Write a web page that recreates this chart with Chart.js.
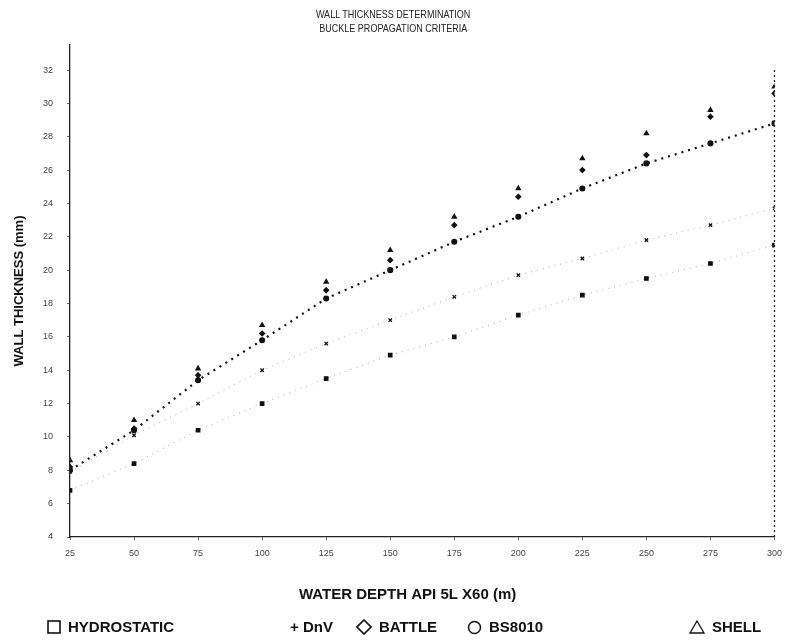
<!DOCTYPE html>
<html><head><meta charset="utf-8">
<script src="https://cdn.jsdelivr.net/npm/chart.js@4.4.0/dist/chart.umd.min.js"></script>
<style>
html,body{margin:0;padding:0;background:#fff;}
#wrap{position:relative;width:790px;height:641px;overflow:hidden;}
canvas{position:absolute;left:0;top:0;}
.leg{position:absolute;top:618px;font:bold 15px "Liberation Sans",Arial,sans-serif;color:#111;white-space:nowrap;line-height:18px;display:flex;align-items:center;}
.leg svg{margin-right:7px;}
#title{position:absolute;left:0;top:7px;width:786px;text-align:center;font:11px "Liberation Sans",Arial,sans-serif;color:#222;line-height:14px;}
#title div{display:inline-block;transform:scaleX(0.82);transform-origin:50% 50%;white-space:nowrap;}
</style></head><body>
<div id="wrap"><canvas id="c" width="790" height="641"></canvas>
<div id="title"><div>WALL THICKNESS DETERMINATION</div><br><div>BUCKLE PROPAGATION CRITERIA</div></div>
<div class="leg" style="left:47px"><svg width="14" height="14"><rect x="1" y="1" width="12" height="12" fill="none" stroke="#111" stroke-width="1.6"/></svg>HYDROSTATIC</div>
<div class="leg" style="left:290px">+ DnV</div>
<div class="leg" style="left:356px"><svg width="16" height="16"><polygon points="8,1 15,8 8,15 1,8" fill="none" stroke="#111" stroke-width="1.6"/></svg>BATTLE</div>
<div class="leg" style="left:467px"><svg width="15" height="15"><circle cx="7.5" cy="7.5" r="6" fill="none" stroke="#111" stroke-width="1.5"/></svg>BS8010</div>
<div class="leg" style="left:689px"><svg width="16" height="15"><polygon points="8,1 15,13 1,13" fill="none" stroke="#111" stroke-width="1.3"/></svg>SHELL</div>
</div>
<script>
// Water depth (m)
const depths = [25, 50, 75, 100, 125, 150, 175, 200, 225, 250, 275, 300];
const xTicks = [25, 50, 75, 100, 125, 150, 175, 200, 225, 250, 275, 300];
const yTicks = [4, 6, 8, 10, 12, 14, 16, 18, 20, 22, 24, 26, 28, 30, 32];
// Wall thickness (mm)
const hydrostatic = [6.8, 8.4, 10.4, 12.0, 13.5, 14.9, 16.0, 17.3, 18.5, 19.5, 20.4, 21.5];
const dnv         = [7.9, 10.1, 12.0, 14.0, 15.6, 17.0, 18.4, 19.7, 20.7, 21.8, 22.7, 23.7];
const battle      = [8.2, 10.5, 13.7, 16.2, 18.8, 20.6, 22.7, 24.4, 26.0, 26.9, 29.2, 30.6];
const bs8010      = [8.0, 10.4, 13.4, 15.8, 18.3, 20.0, 21.7, 23.2, 24.9, 26.4, 27.6, 28.8];
const shell       = [8.6, 11.0, 14.1, 16.7, 19.3, 21.2, 23.2, 24.9, 26.7, 28.2, 29.6, 31.0];

const pts = arr => arr.map((v, i) => ({x: depths[i], y: v}));
const FONT = '"Liberation Sans", Arial, sans-serif';

function ds(label, arr, style, line) {
  return {
    label, data: pts(arr), pointStyle: style, pointRadius: 2.4,
    backgroundColor: '#111', borderColor: line ? line.c : '#111',
    pointBorderColor: '#111', pointBorderWidth: 1.3,
    showLine: !!line, borderWidth: line ? line.w : 0,
    borderDash: line ? line.dash : []
  };
}

const rightBorder = {
  id: 'rightBorder',
  afterDraw(chart) {
    const {ctx, chartArea: a} = chart;
    ctx.save();
    ctx.strokeStyle = '#222'; ctx.lineWidth = 1.3; ctx.setLineDash([2, 3]);
    ctx.beginPath(); ctx.moveTo(a.right, a.top + 25); ctx.lineTo(a.right, a.bottom); ctx.stroke();
    ctx.restore();
  }
};

new Chart(document.getElementById('c'), {
  type: 'scatter',
  data: {
    datasets: [
      ds('HYDROSTATIC', hydrostatic, 'rect', {w: 1, dash: [1, 5], c: '#aaa'}),
      ds('DnV', dnv, 'crossRot', {w: 1, dash: [1, 5], c: '#aaa'}),
      ds('BATTLE', battle, 'rectRot', null),
      ds('BS8010', bs8010, 'circle', {w: 2.2, dash: [2, 5], c: '#111'}),
      ds('SHELL', shell, 'triangle', null)
    ]
  },
  options: {
    responsive: false, animation: false,
    layout: {padding: {left: 0, right: 12, top: 45, bottom: 34}},
    plugins: {
      legend: {display: false},
      tooltip: {enabled: false},
      title: {display: false}
    },
    scales: {
      x: {
        type: 'linear', min: 25, max: 300,
        afterBuildTicks: s => { s.ticks = xTicks.map(v => ({value: v})); },
        afterFit: s => { s.height = 70; },
        ticks: {font: {family: FONT, size: 9}, color: '#444', padding: 8, maxRotation: 0},
        grid: {display: true, drawOnChartArea: false, drawTicks: true, tickLength: 3, color: '#666'},
        border: {display: true, color: '#222', width: 1.3, dash: [2, 3]},
        title: {display: true, text: 'WATER DEPTH API 5L X60 (m)       ', color: '#111',
          font: {family: FONT, size: 15, weight: 'bold'}, padding: {top: 0, bottom: 3}}
      },
      y: {
        type: 'linear', min: 4, max: 33.5,
        afterBuildTicks: s => { s.ticks = yTicks.map(v => ({value: v})); },
        afterFit: s => { s.width = 70; },
        ticks: {font: {family: FONT, size: 9}, color: '#444', padding: 14},
        grid: {display: true, drawOnChartArea: false, drawTicks: true, tickLength: 3, color: '#666'},
        border: {display: true, color: '#222', width: 1.3, dash: [2, 3]},
        title: {display: true, text: 'WALL THICKNESS (mm)', color: '#111',
          font: {family: FONT, size: 13, weight: 'bold'}, padding: {top: 12, bottom: 0}}
      }
    }
  },
  plugins: [rightBorder]
});
</script>
</body></html>
